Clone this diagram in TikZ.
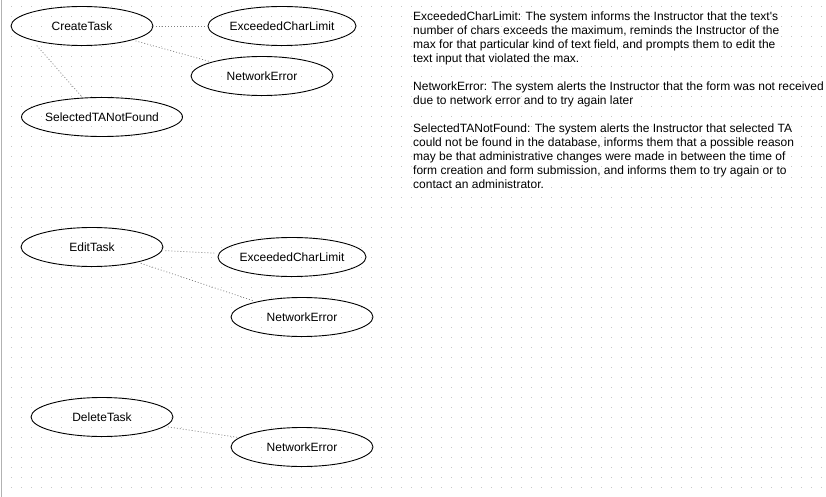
\documentclass[tikz,border=0pt]{standalone}
\usepackage{fontspec}
\setmainfont{Liberation Sans}
\usepackage{tikz}
\usetikzlibrary{shapes.geometric}
\usetikzlibrary{math}
\tikzstyle{usecase} = [ellipse, draw=black, line width=0.9pt, minimum width=142pt, minimum height=39pt, inner sep=0pt, font=\fontsize{12}{14}\selectfont]
\tikzstyle{link} = [draw=gray, line width=0.7pt, dash pattern=on 1pt off 2pt]
\tikzstyle{note} = [anchor=north west, inner sep=0pt, align=left, font=\fontsize{12}{14}\selectfont]
\tikzstyle{griddot} = [draw=black!22, line width=1pt, dash pattern=on 1pt off 9pt]
\begin{document}
\begin{tikzpicture}[x=1pt, y=-1pt]

  \tikzmath{\w = 826; \h = 497;}
  \fill[white] (0,0) rectangle (\w,\h);
  \useasboundingbox (0,0) rectangle (\w,\h);

  % dotted grid of the canvas
  \foreach \gy in {7,17,...,497}
    \draw[griddot] (1,\gy) -- (\w,\gy);
  \draw[black!30, line width=1pt] (1,0) -- (1,\h);

  % CreateTask
  \node[usecase] (CreateTask) at (82,26) {CreateTask};
  \node[usecase] (ExceededCharLimitA) at (282,26) {ExceededCharLimit};
  \node[usecase] (NetworkErrorA) at (262,76) {NetworkError};
  \node[usecase] (SelectedTANotFound) at (102,117) {SelectedTANotFound};
  \draw[link, shorten <=3pt, shorten >=3pt] (CreateTask) -- (ExceededCharLimitA);
  \draw[link, shorten <=3pt, shorten >=2pt] (CreateTask) -- (NetworkErrorA);
  \draw[link, shorten <=7pt] (CreateTask.196) -- (SelectedTANotFound.135);

  % EditTask
  \node[usecase] (EditTask) at (92,247) {EditTask};
  \node[usecase] (ExceededCharLimitB) at (292,257) {ExceededCharLimit};
  \node[usecase] (NetworkErrorB) at (302,317) {NetworkError};
  \draw[link, shorten <=3pt, shorten >=3pt] (EditTask) -- (ExceededCharLimitB);
  \draw[link, shorten <=3pt, shorten >=2pt] (EditTask) -- (NetworkErrorB);

  % DeleteTask
  \node[usecase] (DeleteTask) at (102,417) {DeleteTask};
  \node[usecase] (NetworkErrorC) at (302,447) {NetworkError};
  \draw[link, shorten <=3pt, shorten >=2pt] (DeleteTask) -- (NetworkErrorC);

  % descriptions
  \node[note] (ExceededNote) at (413,11.2) {ExceededCharLimit: The system informs the Instructor that the text\textquotesingle s\\
    number of chars exceeds the maximum, reminds the Instructor of the\\
    max for that particular kind of text field, and prompts them to edit the\\
    text input that violated the max.};
  \node[note] (NetworkNote) at (413,81.2) {NetworkError: The system alerts the Instructor that the form was not received\\
    due to network error and to try again later};
  \node[note] (SelectedNote) at (413,123.2) {SelectedTANotFound: The system alerts the Instructor that selected TA\\
    could not be found in the database, informs them that a possible reason\\
    may be that administrative changes were made in between the time of\\
    form creation and form submission, and informs them to try again or to\\
    contact an administrator.};

\end{tikzpicture}
\end{document}
